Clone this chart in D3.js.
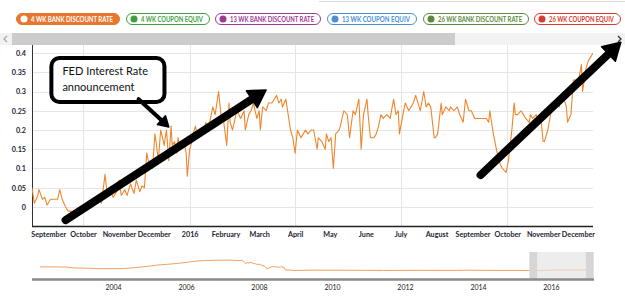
<!DOCTYPE html>
<html>
<head>
<meta charset="utf-8">
<title>4 WK bank discount rate</title>
<script src="https://d3js.org/d3.v7.min.js"></script>
<style>
  body { margin: 0; background: #fff; }
  svg { display: block; font-family: Lato, "Open Sans", sans-serif; }
</style>
</head>
<body>
<script>
var width = 625, height = 303;

// legend buttons
var seriesNames = ["4 WK BANK DISCOUNT RATE", "4 WK COUPON EQUIV", "13 WK BANK DISCOUNT RATE",
                   "13 WK COUPON EQUIV", "26 WK BANK DISCOUNT RATE", "26 WK COUPON EQUIV"];
var seriesColors = ["#e8772e", "#3f9f3f", "#9b3a95", "#4a8ed6", "#5b8a3c", "#d93b30"];

// 4 week bank discount rate (%), Aug 2015 - Dec 2016
var rateDates = [
  "2015-08-18","2015-08-20","2015-08-23","2015-08-24","2015-08-27","2015-08-29","2015-08-31","2015-09-03","2015-09-05","2015-09-09","2015-09-11","2015-09-13","2015-09-16","2015-09-18","2015-09-22","2015-09-25","2015-09-29",
  "2015-10-01","2015-10-04","2015-10-07","2015-10-09","2015-10-12","2015-10-14","2015-10-17","2015-10-20","2015-10-22","2015-10-25","2015-10-27","2015-10-30",
  "2015-11-01","2015-11-03","2015-11-06","2015-11-08","2015-11-11","2015-11-14","2015-11-16","2015-11-19","2015-11-21","2015-11-23","2015-11-25","2015-11-27","2015-11-28","2015-11-30",
  "2015-12-02","2015-12-03","2015-12-05","2015-12-07","2015-12-09","2015-12-10","2015-12-12","2015-12-14","2015-12-16","2015-12-17","2015-12-19","2015-12-21","2015-12-22","2015-12-24","2015-12-27","2015-12-29","2015-12-30",
  "2016-01-01","2016-01-03","2016-01-04","2016-01-06","2016-01-08","2016-01-10","2016-01-12","2016-01-15","2016-01-17","2016-01-21","2016-01-23","2016-01-26","2016-01-28","2016-01-30",
  "2016-02-02","2016-02-04","2016-02-05","2016-02-07","2016-02-10","2016-02-11","2016-02-14","2016-02-17","2016-02-18","2016-02-21","2016-02-23","2016-02-25","2016-02-28",
  "2016-03-01","2016-03-02","2016-03-04","2016-03-07","2016-03-09","2016-03-12","2016-03-14","2016-03-16","2016-03-18","2016-03-20","2016-03-21","2016-03-24","2016-03-26","2016-03-28","2016-03-30",
  "2016-04-01","2016-04-03","2016-04-06","2016-04-08","2016-04-10","2016-04-12","2016-04-15","2016-04-17","2016-04-20","2016-04-21","2016-04-24","2016-04-27","2016-04-28","2016-04-30",
  "2016-05-02","2016-05-04","2016-05-06","2016-05-09","2016-05-10","2016-05-13","2016-05-16","2016-05-18","2016-05-21","2016-05-23","2016-05-26","2016-05-28","2016-05-30",
  "2016-06-02","2016-06-03","2016-06-05","2016-06-08","2016-06-10","2016-06-12","2016-06-14","2016-06-16","2016-06-19","2016-06-22","2016-06-25","2016-06-27","2016-06-29","2016-06-30",
  "2016-07-03","2016-07-05","2016-07-08","2016-07-10","2016-07-12","2016-07-14","2016-07-17","2016-07-18","2016-07-21","2016-07-23","2016-07-25","2016-07-27","2016-07-30","2016-07-31",
  "2016-08-02","2016-08-05","2016-08-06","2016-08-09","2016-08-12","2016-08-13","2016-08-16","2016-08-19","2016-08-21","2016-08-24","2016-08-26","2016-08-29","2016-08-31",
  "2016-09-03","2016-09-07","2016-09-10","2016-09-13","2016-09-15","2016-09-16","2016-09-19","2016-09-21","2016-09-23","2016-09-25","2016-09-27","2016-09-30",
  "2016-10-02","2016-10-05","2016-10-07","2016-10-08","2016-10-10","2016-10-13","2016-10-15","2016-10-17","2016-10-20","2016-10-21","2016-10-23","2016-10-26","2016-10-28","2016-10-30",
  "2016-11-01","2016-11-02","2016-11-05","2016-11-08","2016-11-09","2016-11-12","2016-11-15","2016-11-16","2016-11-18","2016-11-21","2016-11-22","2016-11-25","2016-11-27","2016-11-29",
  "2016-12-01","2016-12-04","2016-12-05","2016-12-08","2016-12-10","2016-12-12","2016-12-14"
];
var rateValues = [
  0.05,0.01,0.03,0.045,0.02,0.025,0.005,0.02,0.02,0.02,0.045,0.02,0.0,-0.01,-0.012,-0.01,-0.012,
  -0.005,0.0,0.01,0.0,0.015,0.02,0.01,0.085,0.03,0.04,0.025,0.04,
  0.07,0.03,0.045,0.03,0.06,0.035,0.07,0.04,0.055,0.05,0.14,0.11,0.12,0.1,
  0.19,0.17,0.12,0.2,0.175,0.16,0.2,0.12,0.21,0.16,0.17,0.14,0.18,0.15,0.17,0.14,0.08,
  0.15,0.17,0.19,0.21,0.18,0.2,0.19,0.22,0.2,0.26,0.24,0.3,0.24,0.23,
  0.16,0.27,0.22,0.2,0.24,0.25,0.23,0.25,0.2,0.24,0.25,0.27,0.23,
  0.25,0.2,0.26,0.25,0.27,0.27,0.28,0.29,0.27,0.28,0.26,0.28,0.24,0.2,0.18,
  0.14,0.2,0.18,0.19,0.2,0.19,0.2,0.2,0.15,0.18,0.17,0.15,0.19,0.17,
  0.18,0.1,0.19,0.2,0.21,0.25,0.24,0.18,0.25,0.24,0.28,0.15,0.24,
  0.28,0.24,0.18,0.18,0.19,0.21,0.24,0.23,0.24,0.23,0.28,0.24,0.25,0.19,
  0.24,0.27,0.25,0.26,0.27,0.29,0.26,0.25,0.3,0.26,0.27,0.26,0.18,0.18,
  0.19,0.27,0.24,0.26,0.25,0.26,0.25,0.26,0.24,0.22,0.28,0.25,0.25,
  0.23,0.23,0.23,0.23,0.22,0.25,0.19,0.16,0.13,0.11,0.1,0.09,
  0.12,0.2,0.27,0.24,0.24,0.25,0.24,0.23,0.22,0.24,0.23,0.24,0.22,0.23,
  0.17,0.17,0.2,0.25,0.26,0.27,0.26,0.29,0.29,0.26,0.22,0.24,0.33,0.33,
  0.32,0.37,0.3,0.36,0.38,0.39,0.4
];

// navigator: full history of the same rate (%)
var navDates = [
  "2002-01-01","2002-04-01","2002-07-01","2002-10-01","2002-12-01",
  "2003-03-01","2003-06-01","2003-07-15","2003-10-01",
  "2004-01-01","2004-04-01","2004-07-01","2004-10-01",
  "2005-01-01","2005-04-01","2005-07-01","2005-10-01",
  "2006-01-01","2006-04-01","2006-07-01","2006-10-01",
  "2007-01-01","2007-04-01","2007-06-15","2007-07-20","2007-08-10","2007-08-20","2007-09-05","2007-09-25","2007-10-15","2007-11-05","2007-11-25","2007-12-15",
  "2008-01-10","2008-02-01","2008-02-20","2008-03-10","2008-03-20","2008-04-10","2008-05-01","2008-05-25","2008-06-20","2008-07-15","2008-08-10","2008-09-10","2008-09-20","2008-10-20","2008-12-15",
  "2009-06-01","2010-06-01","2011-06-01","2011-10-01","2012-06-01","2013-06-01","2013-10-10","2014-06-01","2015-06-01","2015-10-01","2016-01-01","2016-06-01","2016-10-01","2016-12-14"
];
var navValues = [
  1.70,1.72,1.70,1.60,1.22,
  1.15,1.05,0.85,0.92,
  0.85,0.92,1.20,1.65,
  2.10,2.65,2.95,3.35,
  3.85,4.45,4.75,4.85,
  4.90,4.95,4.70,4.95,3.80,3.10,3.85,3.60,3.90,3.40,3.20,2.90,
  2.95,2.20,2.30,1.40,0.70,1.20,1.70,1.85,1.70,1.60,1.75,1.45,0.20,0.25,0.01,
  0.15,0.13,0.02,0.01,0.07,0.03,0.15,0.03,0.01,0.00,0.20,0.24,0.18,0.40
];

var yTicks = [0, 0.05, 0.1, 0.15, 0.2, 0.25, 0.3, 0.35, 0.4];
var navYears = [2004, 2006, 2008, 2010, 2012, 2014, 2016];

// annotations, placed in data space
var calloutBox = { from: "2015-09-02", to: "2015-12-12", top: 0.392, bottom: 0.2675 };
var calloutLines = ["FED Interest Rate", "announcement"];
var bigArrows = [
  { from: ["2015-09-16", -0.034], to: ["2016-03-07", 0.304] },
  { from: ["2016-09-08", 0.083], to: ["2017-01-07", 0.428] }
];
var pointerArrow = { from: ["2015-11-18", 0.28], to: ["2015-12-14", 0.208] };

var parse = d3.utcParse("%Y-%m-%d");
var monthName = d3.utcFormat("%B");

var svg = d3.select("body").append("svg")
  .attr("width", width)
  .attr("height", height);

var defs = svg.append("defs");
defs.append("clipPath").attr("id", "plotClip")
  .append("rect").attr("x", 32).attr("y", 45).attr("width", 561).attr("height", 181);
// used inside the translated x axis group, so local coordinates
defs.append("clipPath").attr("id", "labelClip")
  .append("rect").attr("x", 30).attr("y", -2).attr("width", 565).attr("height", 22);
defs.append("filter").attr("id", "soft")
  .append("feGaussianBlur").attr("stdDeviation", 0.6);

// faint box edge at the very top
svg.append("line")
  .attr("x1", 319).attr("x2", 625).attr("y1", 1.5).attr("y2", 1.5)
  .attr("stroke", "#dcdcdc");

// ---- legend pills
var pillX = [16, 126, 215, 327, 423, 534],
    pillW = [104, 84, 106, 90, 106, 87];

var legend = svg.append("g").selectAll("g")
  .data(seriesNames)
  .join("g")
  .attr("transform", function(d, i) { return "translate(" + pillX[i] + ",13)"; });

legend.append("rect")
  .attr("x", 0.5).attr("y", 0.5)
  .attr("width", function(d, i) { return pillW[i] - 1; })
  .attr("height", 11).attr("rx", 5.5)
  .attr("fill", function(d, i) { return i === 0 ? seriesColors[0] : "#fff"; })
  .attr("stroke", function(d, i) { return seriesColors[i]; });

legend.append("circle")
  .attr("cx", 8).attr("cy", 6).attr("r", 3.5)
  .attr("fill", function(d, i) { return i === 0 ? "#fff" : seriesColors[i]; });

// squeeze each label horizontally so it fills its pill like the condensed original
legend.append("text")
  .attr("font-size", 7.4).attr("font-weight", 700)
  .attr("fill", function(d, i) { return i === 0 ? "#fff" : seriesColors[i]; })
  .text(function(d) { return d; })
  .attr("transform", function(d, i) {
    var sx = (pillW[i] - 22) / this.getComputedTextLength();
    return "translate(15,8.7) scale(" + sx + ",1)";
  });

// ---- scrollbar
svg.append("rect").attr("x", 0).attr("y", 33).attr("width", width).attr("height", 12).attr("fill", "#f2f2f2");
svg.append("rect").attr("x", 12).attr("y", 33).attr("width", 443).attr("height", 12).attr("fill", "#cccccc");
svg.append("path").attr("d", "M7,36 L4,39 L7,42").attr("fill", "none").attr("stroke", "#aaa").attr("stroke-width", 1.3);
svg.append("path").attr("d", "M618,36 L621,39 L618,42").attr("fill", "none").attr("stroke", "#333").attr("stroke-width", 1.3);

// ---- main chart
var x = d3.scaleUtc()
  .domain([parse("2015-08-18"), parse("2016-12-14")])
  .range([32, 593]);

var y = d3.scaleLinear()
  .domain([-0.05, 0.4])
  .range([226.25, 53]);

var grid = svg.append("g");
grid.selectAll(".hg")
  .data(yTicks)
  .join("line")
  .attr("x1", 32).attr("x2", 593)
  .attr("y1", function(d) { return Math.round(y(d)) + 0.5; })
  .attr("y2", function(d) { return Math.round(y(d)) + 0.5; })
  .attr("stroke", "#e6e6e6");
grid.selectAll(".vg")
  .data(d3.utcMonth.every(3).range(x.domain()[0], x.domain()[1]))
  .join("line")
  .attr("x1", function(d) { return Math.round(x(d)) + 0.5; })
  .attr("x2", function(d) { return Math.round(x(d)) + 0.5; })
  .attr("y1", 45).attr("y2", 226)
  .attr("stroke", "#e6e6e6");

var yAxis = svg.append("g")
  .attr("transform", "translate(32,0)")
  .call(d3.axisLeft(y).tickValues(yTicks).tickSize(0).tickPadding(6)
    .tickFormat(function(d) { return String(+d.toFixed(2)); }));
yAxis.select(".domain").remove();
yAxis.selectAll("text").attr("font-size", 7.2).attr("font-weight", 700).attr("fill", "#1c2333")
  .attr("font-family", "Lato, sans-serif");

var xAxis = svg.append("g")
  .attr("transform", "translate(0,226)")
  .attr("clip-path", "url(#labelClip)")
  .call(d3.axisBottom(x).ticks(d3.utcMonth.every(1)).tickSize(0).tickPadding(6)
    .tickFormat(function(d) { return d.getUTCMonth() === 0 ? d.getUTCFullYear() : monthName(d); }));
xAxis.select(".domain").remove();
xAxis.selectAll("text").attr("font-size", 7.2).attr("font-weight", 700).attr("fill", "#1c2333")
  .attr("font-family", "Lato, sans-serif");

svg.append("line").attr("x1", 32.5).attr("x2", 32.5).attr("y1", 45).attr("y2", 226)
  .attr("stroke", "#333").attr("stroke-width", 1);
svg.append("line").attr("x1", 32).attr("x2", 593).attr("y1", 226.5).attr("y2", 226.5)
  .attr("stroke", "#222").attr("stroke-width", 1.5);

var rateData = rateDates.map(function(d, i) { return { date: parse(d), value: rateValues[i] }; });

svg.append("path")
  .datum(rateData)
  .attr("clip-path", "url(#plotClip)")
  .attr("fill", "none")
  .attr("stroke", "#ef862c")
  .attr("stroke-width", 1.1)
  .attr("stroke-linejoin", "round")
  .attr("d", d3.line()
    .x(function(d) { return x(d.date); })
    .y(function(d) { return y(d.value); }));

// ---- navigator
var navX = d3.scaleUtc()
  .domain([parse("2001-10-12"), parse("2017-03-07")])
  .range([32, 594]);
var navY = d3.scaleLinear().domain([0, 5]).range([270.5, 260]);

var navData = navDates.map(function(d, i) { return { date: parse(d), value: navValues[i] }; });

svg.append("path")
  .datum(navData)
  .attr("fill", "none")
  .attr("stroke", "#f2a063")
  .attr("stroke-width", 1)
  .attr("d", d3.line()
    .x(function(d) { return navX(d.date); })
    .y(function(d) { return navY(d.value); }));

var selA = navX(x.domain()[0]), selB = navX(x.domain()[1]);
svg.append("rect").attr("x", selA).attr("y", 252).attr("width", selB - selA).attr("height", 27)
  .attr("fill", "#e6e6e6").attr("fill-opacity", 0.7);
svg.append("rect").attr("x", selA - 8).attr("y", 252).attr("width", 8).attr("height", 27).attr("fill", "#d6d6d6");
svg.append("rect").attr("x", selB).attr("y", 252).attr("width", 8).attr("height", 27).attr("fill", "#d6d6d6");

svg.append("line").attr("x1", 32).attr("x2", 594).attr("y1", 279.5).attr("y2", 279.5)
  .attr("stroke", "#8a8a8a").attr("stroke-width", 2.5);

var navAxis = svg.append("g")
  .attr("transform", "translate(0,280)")
  .call(d3.axisBottom(navX)
    .tickValues(navYears.map(function(yr) { return new Date(Date.UTC(yr, 0, 1)); }))
    .tickSize(0).tickPadding(5)
    .tickFormat(d3.utcFormat("%Y")));
navAxis.select(".domain").remove();
navAxis.selectAll("text").attr("font-size", 7).attr("fill", "#222").attr("font-family", "Lato, sans-serif");

// ---- annotations
function pt(p) { return [x(parse(p[0])), y(p[1])]; }

function drawArrow(g, a, b, w, headLen, headHalf) {
  var dx = b[0] - a[0], dy = b[1] - a[1], len = Math.sqrt(dx * dx + dy * dy);
  var ux = dx / len, uy = dy / len, nx = -uy, ny = ux;
  var bx = b[0] - ux * headLen, by = b[1] - uy * headLen;
  g.append("line")
    .attr("x1", a[0]).attr("y1", a[1])
    .attr("x2", bx + ux * 2).attr("y2", by + uy * 2)
    .attr("stroke", "#000").attr("stroke-width", w).attr("stroke-linecap", "round");
  g.append("path")
    .attr("d", "M" + b[0] + "," + b[1] +
      "L" + (bx + nx * headHalf) + "," + (by + ny * headHalf) +
      "L" + (bx - nx * headHalf) + "," + (by - ny * headHalf) + "Z")
    .attr("fill", "#000").attr("stroke", "#000").attr("stroke-width", 1.5).attr("stroke-linejoin", "round");
}

var notes = svg.append("g").attr("filter", "url(#soft)");

bigArrows.forEach(function(a) { drawArrow(notes, pt(a.from), pt(a.to), 8, 17, 10); });

var bx0 = x(parse(calloutBox.from)), bx1 = x(parse(calloutBox.to)),
    by0 = y(calloutBox.top), by1 = y(calloutBox.bottom);
notes.append("rect")
  .attr("x", bx0 + 2).attr("y", by0 + 2)
  .attr("width", bx1 - bx0 - 4).attr("height", by1 - by0 - 4)
  .attr("rx", 8)
  .attr("fill", "#fff").attr("stroke", "#000").attr("stroke-width", 4);

drawArrow(notes, pt(pointerArrow.from), pt(pointerArrow.to), 4, 10, 6);

svg.append("g").selectAll("text")
  .data(calloutLines)
  .join("text")
  .attr("x", bx0 + 13)
  .attr("y", function(d, i) { return by0 + 19 + i * 16; })
  .attr("font-size", 11)
  .attr("font-family", "Lato, sans-serif")
  .attr("fill", "#111")
  .text(function(d) { return d; });
</script>
</body>
</html>
